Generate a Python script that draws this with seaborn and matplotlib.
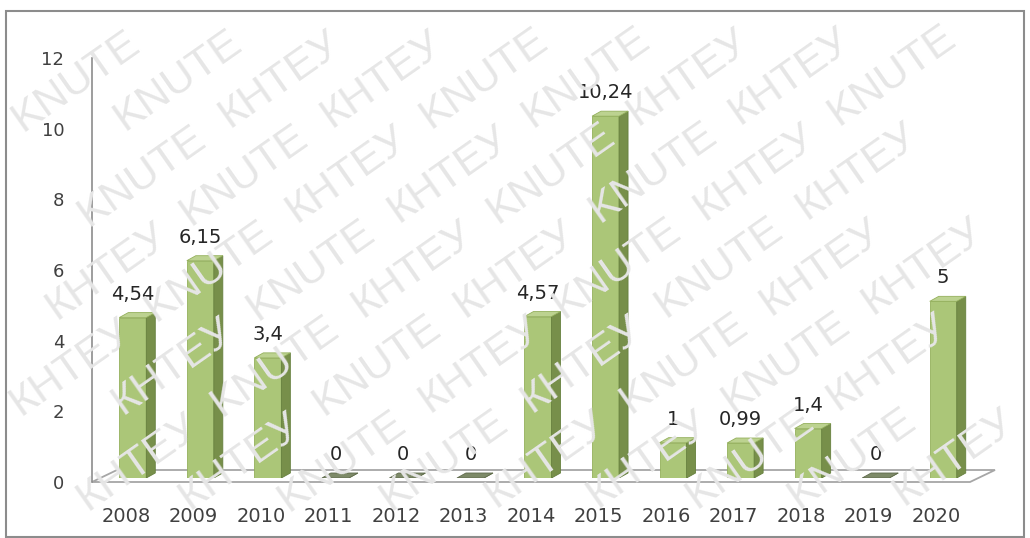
import numpy as np
import pandas as pd
import matplotlib
matplotlib.use('Agg')
import matplotlib.pyplot as plt
import seaborn as sns
from matplotlib.patches import Polygon, Rectangle

# Дані
years = ['2008', '2009', '2010', '2011', '2012', '2013', '2014',
         '2015', '2016', '2017', '2018', '2019', '2020']
values = [4.54, 6.15, 3.4, 0, 0, 0, 4.57, 10.24, 1, 0.99, 1.4, 0, 5]
y_ticks = [0, 2, 4, 6, 8, 10, 12]
wm_words = ['КНТЕУ', 'KNUTE']

df = pd.DataFrame({'year': years, 'value': values})
labels = [f'{v:g}'.replace('.', ',') for v in values]

sns.set_style('white')
plt.rcParams['font.family'] = ['DejaVu Sans']

W, H = 1030, 538
fig = plt.figure(figsize=(W / 100, H / 100), dpi=100)

# водяний знак (тільки повні слова всередині рисунка)
deg = 35
ang = np.deg2rad(deg)
u = np.array([np.cos(ang), np.sin(ang)])
v = np.array([-np.sin(ang), np.cos(ang)])
step, gap = 168, 58
wm = []
for j in range(-25, 25):
    for i in range(-25, 25):
        c = np.array([W / 2, H / 2]) + (i + 0.5 * (j % 2)) * step * u + j * gap * v
        if -80 < c[0] < W + 80 and -80 < c[1] < H + 80:
            t = fig.text(c[0] / W, c[1] / H, wm_words[(i + j) % 2],
                         rotation=deg, rotation_mode='anchor', ha='center',
                         va='center', fontsize=31, color='#e6e6e6',
                         family='Liberation Sans', zorder=0)
            wm.append(t)
fig.canvas.draw()
r = fig.canvas.get_renderer()
for t in wm:
    bb = t.get_window_extent(r)
    if bb.x0 < 1 or bb.y0 < 1 or bb.x1 > W - 1 or bb.y1 > H - 1:
        t.remove()

# рамка
fig.patches.append(Rectangle((6 / W, 0.002), 1018 / W, (H - 12) / H,
                             transform=fig.transFigure, fill=False,
                             edgecolor='#8c8c8c', linewidth=1.5, zorder=1))

left, bottom = 92 / W, (H - 482) / H
width, height = 878 / W, 424 / H
ax = fig.add_axes([left, bottom, width, height])
ax.patch.set_alpha(0)
ax.set_xlim(-0.5, 12.5)
ax.set_ylim(0, 12)

px_x = width * W / 13
px_y = height * H / 12

# підлога
fdx, fdy = 25 / px_x, 12 / px_y
floor = Polygon([(-0.5, 0), (12.5, 0), (12.5 + fdx, fdy), (-0.5 + fdx, fdy)],
                closed=True, fill=False, edgecolor='#a6a6a6', linewidth=1.3,
                clip_on=False)
ax.add_patch(floor)

for s in ['top', 'right', 'bottom']:
    ax.spines[s].set_visible(False)
ax.spines['left'].set_color('#8c8c8c')
ax.spines['left'].set_linewidth(1.2)
ax.set_yticks(y_ticks)
ax.set_yticklabels([str(t) for t in y_ticks], fontsize=13, color='#404040')
ax.tick_params(axis='y', length=6, color='#8c8c8c', pad=14, direction='out')
ax.set_xticks(range(len(years)))
ax.set_xticklabels(years, fontsize=14, color='#404040')
ax.set_xticks(np.arange(-0.5, 13, 1), minor=True)
ax.tick_params(axis='x', which='major', length=0, pad=18)
ax.tick_params(axis='x', which='minor', length=5, color='#a6a6a6', width=1.2)

# стовпчики (трохи вглиб)
bx = fig.add_axes([left + 7 / W, bottom + 4 / H, width, height])
sns.barplot(data=df, x='year', y='value', ax=bx, color='#abc678',
            saturation=1, width=0.4, edgecolor='#94b05c', linewidth=0.6)
bx.set_xlim(-0.5, 12.5)
bx.set_ylim(0, 12)
bx.axis('off')
bx.patch.set_alpha(0)

dx, dy = 9 / px_x, 5 / px_y
for p, val in zip(bx.patches, values):
    x0 = p.get_x()
    x1 = x0 + p.get_width()
    h = p.get_height()
    side = Polygon([(x1, 0), (x1, h), (x1 + dx, h + dy), (x1 + dx, dy)],
                   closed=True, facecolor='#778f4a', edgecolor='#66803e',
                   linewidth=0.6)
    top = Polygon([(x0, h), (x1, h), (x1 + dx, h + dy), (x0 + dx, h + dy)],
                  closed=True, facecolor='#bcd290' if h > 0 else '#7d8a68',
                  edgecolor='#94b05c' if h > 0 else '#5f6a4c', linewidth=0.6)
    bx.add_patch(side)
    bx.add_patch(top)

bx.bar_label(bx.containers[0], labels=labels, padding=10, fontsize=14,
             color='#262626')

fig.savefig('out.png', dpi=100)
